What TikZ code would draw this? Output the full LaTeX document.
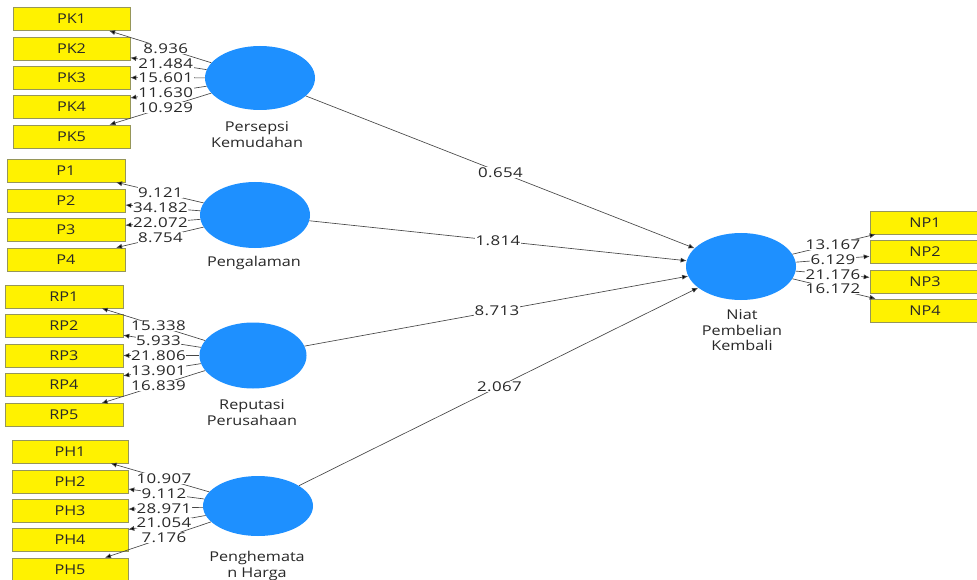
\documentclass[tikz,border=0pt]{standalone}
\usepackage{fontspec}
\setmainfont{Open Sans}[FakeStretch=1.2]
\newfontfamily\numfont{Open Sans}[FakeStretch=1.25, LetterSpace=3]
\usetikzlibrary{arrows.meta,shapes.geometric,calc}
\definecolor{lvblue}{RGB}{30,144,255}
\definecolor{txt}{RGB}{40,40,40}
\definecolor{edgec}{RGB}{70,70,70}
\definecolor{boxedge}{RGB}{150,150,90}
\begin{document}
\begin{tikzpicture}[x=1pt,y=-1pt,
  ind/.style={draw=boxedge, line width=0.6pt, fill=yellow, minimum width=117pt, minimum height=23pt, inner sep=0pt, font=\fontsize{13.5}{15}\selectfont, text=txt},
  lv/.style={ellipse, fill=lvblue, draw=none, minimum width=110pt, minimum height=64pt, inner sep=0pt},
  lvlab/.style={align=center, font=\fontsize{13.5}{15.5}\selectfont, text=txt},
  conn/.style={draw=edgec, line width=0.65pt, -{Latex[length=6pt,width=5pt,fill=black]}},
  val/.style={fill=white, inner sep=0.5pt, font=\numfont\fontsize{13.5}{15}\selectfont, text=txt}
]
\useasboundingbox (0,0) rectangle (977,580);
\clip (0,0) rectangle (977,580);
\fill[white] (0,0) rectangle (977,580);

% latent variables
\node[lv] (PK) at (260,78) {};
\node[lv, minimum height=66pt] (PG) at (255,215) {};
\node[lv, minimum width=107pt, minimum height=66pt] (RP) at (253,355.5) {};
\node[lv, minimum height=60pt] (PH) at (258,506) {};
\node[lv, minimum height=67pt] (NP) at (741,266.5) {};

\node[lvlab] (PKl) at (257,134.5) {Persepsi\\Kemudahan};
\node[lvlab] (PGl) at (254,263) {Pengalaman};
\node[lvlab] (RPl) at (252,412.5) {Reputasi\\Perusahaan};
\node[lvlab] (PHl) at (257,566) {Penghemata\\n Harga};
\node[lvlab] (NPl) at (742,330.5) {Niat\\Pembelian\\Kembali};

% indicators
\foreach \i/\y in {1/19,2/48.5,3/77.5,4/107,5/136.5}
  \node[ind] (PK\i) at (71.5,\y) {PK\i};
\foreach \i/\y in {1/170.5,2/200.5,3/230,4/259.5}
  \node[ind, minimum width=118pt] (P\i) at (66,\y) {P\i};
\foreach \i/\y in {1/296.5,2/326,3/355.5,4/385,5/415}
  \node[ind, minimum width=118pt] (RP\i) at (64,\y) {RP\i};
\foreach \i/\y in {1/451.5,2/481.5,3/510.5,4/540,5/569.5}
  \node[ind, minimum width=116pt] (PH\i) at (70,\y) {PH\i};
\foreach \i/\y in {1/222.5,2/252,3/282,4/310.5}
  \node[ind, minimum width=110pt] (NP\i) at (925,\y) {NP\i};

% outer model connectors
\foreach \i in {1,...,5} \draw[conn] (PK) -- (PK\i);
\foreach \i in {1,...,4} \draw[conn] (PG) -- (P\i);
\foreach \i in {1,...,5} \draw[conn] (RP) -- (RP\i);
\foreach \i in {1,...,5} \draw[conn] (PH) -- (PH\i);
\foreach \i in {1,...,4} \draw[conn] (NP) -- (NP\i);

% inner model connectors
\draw[conn] (PK) -- (NP);
\draw[conn] (PG) -- (NP);
\draw[conn] (RP) -- (NP);
\draw[conn] (PH) -- (NP);

% labels
\foreach \i/\v in {1/8.936,2/21.484,3/15.601,4/11.630,5/10.929}
  \node[val] at ($(PK)!0.5!(PK\i)$) {\v};
\foreach \i/\v in {1/9.121,2/34.182,3/22.072,4/8.754}
  \node[val] at ($(PG)!0.5!(P\i)$) {\v};
\foreach \i/\v in {1/15.338,2/5.933,3/21.806,4/13.901,5/16.839}
  \node[val] at ($(RP)!0.5!(RP\i)$) {\v};
\foreach \i/\v in {1/10.907,2/9.112,3/28.971,4/21.054,5/7.176}
  \node[val] at ($(PH)!0.5!(PH\i)$) {\v};
\foreach \i/\v in {1/13.167,2/6.129,3/21.176,4/16.172}
  \node[val] at ($(NP)!0.5!(NP\i)$) {\v};

\node[val] at ($(PK)!0.5!(NP)$) {0.654};
\node[val] at ($(PG)!0.5!(NP)$) {1.814};
\node[val] at ($(RP)!0.5!(NP)$) {8.713};
\node[val] at ($(PH)!0.5!(NP)$) {2.067};
\end{tikzpicture}
\end{document}
